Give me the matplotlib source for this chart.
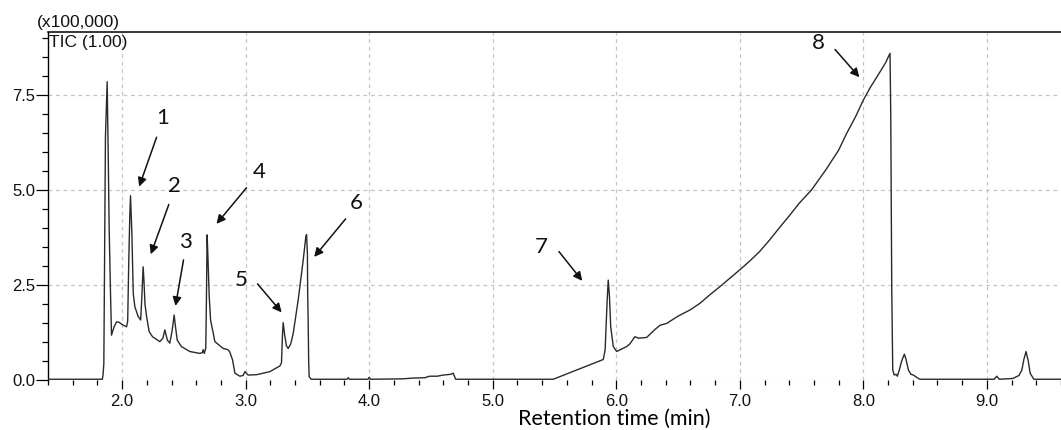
import matplotlib
matplotlib.use("Agg")
import matplotlib.pyplot as plt
from matplotlib.ticker import MultipleLocator, FormatStrFormatter

# Retention time (min) and TIC intensity (x100,000)
rt = [1.40, 1.84, 1.846, 1.852, 1.857, 1.865, 1.879, 1.888, 1.895, 1.906, 1.914,
      1.935, 1.955, 1.975, 1.995, 2.036, 2.045, 2.054, 2.062, 2.068, 2.073, 2.079,
      2.090, 2.103, 2.130, 2.150, 2.160, 2.170, 2.177, 2.185, 2.198, 2.219, 2.246,
      2.305, 2.330, 2.346, 2.366, 2.386, 2.405, 2.421, 2.432, 2.446, 2.480, 2.548,
      2.629, 2.650, 2.656, 2.665, 2.677, 2.682, 2.688, 2.695, 2.705, 2.716, 2.751,
      2.818, 2.855, 2.870, 2.894, 2.913, 2.953, 2.980, 2.994, 3.020, 3.088, 3.196,
      3.277, 3.290, 3.298, 3.304, 3.315, 3.330, 3.344, 3.365, 3.385, 3.425, 3.466,
      3.487, 3.493, 3.500, 3.502, 3.506, 3.510, 3.514, 3.530, 3.82, 3.83, 3.84,
      3.99, 4.00, 4.01, 4.27, 4.35, 4.45, 4.49, 4.55, 4.60, 4.66, 4.68, 4.70,
      5.49, 5.895, 5.91, 5.925, 5.935, 5.945, 5.955, 5.976, 6.003, 6.084, 6.110,
      6.151, 6.180, 6.246, 6.313, 6.354, 6.408, 6.50, 6.60, 6.678, 6.760, 6.840,
      6.92, 7.00, 7.08, 7.16, 7.24, 7.326, 7.40, 7.48, 7.58, 7.70, 7.80, 7.865,
      7.94, 8.00, 8.06, 8.135, 8.18, 8.216, 8.222, 8.230, 8.238, 8.250, 8.265,
      8.275, 8.290, 8.310, 8.332, 8.345, 8.365, 8.385, 8.405, 8.450, 8.46, 9.06,
      9.08, 9.10, 9.21, 9.26, 9.283, 9.30, 9.317, 9.335, 9.35, 9.38, 9.60]
tic = [0.02, 0.02, 0.15, 0.44, 2.68, 6.40, 7.85, 5.80, 4.00, 2.28, 1.18,
       1.40, 1.53, 1.52, 1.47, 1.40, 1.55, 3.16, 4.30, 4.85, 4.40, 3.86,
       2.28, 1.93, 1.67, 1.58, 2.20, 2.98, 2.60, 2.00, 1.67, 1.27, 1.14,
       1.01, 1.10, 1.32, 1.05, 0.97, 1.30, 1.71, 1.40, 1.05, 0.88, 0.75,
       0.70, 0.72, 0.80, 0.70, 0.83, 2.00, 3.82, 3.20, 2.20, 1.58, 1.01,
       0.83, 0.80, 0.75, 0.53, 0.18, 0.10, 0.12, 0.22, 0.13, 0.14, 0.22,
       0.37, 0.45, 1.20, 1.51, 1.20, 0.90, 0.83, 0.95, 1.23, 2.10, 3.16,
       3.77, 3.83, 3.30, 2.30, 1.58, 0.50, 0.09, 0.02, 0.02, 0.06, 0.02,
       0.02, 0.07, 0.02, 0.03, 0.05, 0.06, 0.10, 0.10, 0.13, 0.15, 0.18, 0.02,
       0.02, 0.54, 0.80, 2.00, 2.63, 2.20, 1.40, 0.88, 0.75, 0.88, 0.95,
       1.14, 1.10, 1.12, 1.33, 1.44, 1.49, 1.68, 1.85, 2.02, 2.25, 2.46,
       2.68, 2.90, 3.13, 3.38, 3.68, 4.03, 4.32, 4.65, 5.00, 5.55, 6.05, 6.49,
       6.95, 7.37, 7.72, 8.11, 8.35, 8.60, 6.93, 2.37, 0.26, 0.13, 0.15,
       0.10, 0.25, 0.50, 0.68, 0.55, 0.26, 0.15, 0.13, 0.03, 0.02, 0.02,
       0.10, 0.02, 0.04, 0.12, 0.26, 0.55, 0.75, 0.50, 0.18, 0.02, 0.02]

x_ticks = [2.0, 3.0, 4.0, 5.0, 6.0, 7.0, 8.0, 9.0]
y_ticks = [0.0, 2.5, 5.0, 7.5]

# peak labels with label position, arrow tail and arrow head
peak_labels = ["1", "2", "3", "4", "5", "6", "7", "8"]
label_xy = [(2.327, 6.89), (2.427, 5.11), (2.516, 3.64), (3.109, 5.47),
            (2.964, 2.63), (3.898, 4.67), (5.396, 3.49), (7.636, 8.86)]
tail_xy = [(2.279, 6.39), (2.378, 4.62), (2.497, 3.16), (3.007, 5.06),
           (3.096, 2.53), (3.809, 4.24), (5.536, 3.38), (7.771, 8.70)]
head_xy = [(2.138, 5.09), (2.232, 3.31), (2.432, 1.95), (2.764, 4.11),
           (3.291, 1.78), (3.555, 3.24), (5.725, 2.61), (7.968, 7.97)]

W, H = 1061, 430
fig = plt.figure(figsize=(W / 100, H / 100), dpi=100)
ax = fig.add_axes([48 / W, 1 - 380 / H, 1 - 48 / W, (380 - 32) / H])

ax.plot(rt, tic, color="#2a2a2a", lw=1.0, zorder=3)

ax.set_xlim(1.4, 9.6)
ax.set_ylim(0, 9.16)
ax.set_xticks(x_ticks)
ax.set_yticks(y_ticks)
ax.xaxis.set_minor_locator(MultipleLocator(0.2))
ax.yaxis.set_minor_locator(MultipleLocator(0.5))
ax.xaxis.set_major_formatter(FormatStrFormatter("%.1f"))
ax.yaxis.set_major_formatter(FormatStrFormatter("%.1f"))
for lab in ax.get_xticklabels() + ax.get_yticklabels():
    lab.set_fontfamily(["Liberation Sans", "DejaVu Sans"])
    lab.set_fontsize(12)
    lab.set_color("#111111")

ax.tick_params(axis="x", which="major", direction="out", length=6.5, width=0.9, pad=3.5)
ax.tick_params(axis="x", which="minor", direction="out", length=3.6, width=0.9)
ax.tick_params(axis="y", which="major", direction="out", length=8.6, width=0.9, pad=0.8)
ax.tick_params(axis="y", which="minor", direction="out", length=4.1, width=0.9)

ax.grid(True, which="major", color="#c4c4c4", linestyle=(0, (3, 3)), lw=0.9)
ax.set_axisbelow(True)

for s in ["bottom", "right"]:
    ax.spines[s].set_visible(False)
ax.spines["top"].set_linewidth(1.1)
ax.spines["left"].set_linewidth(1.0)

ax.set_xlabel("Retention time (min)", family=["Lato", "DejaVu Sans"], fontsize=15.5,
              labelpad=0)
ax.xaxis.set_label_coords((614 - 48) / (W - 48), (380 - 419) / (380 - 32))
ax.xaxis.label.set_verticalalignment("center")

fig.text(37 / W, 1 - 23 / H, "(x100,000)", ha="left", va="center",
         family=["Liberation Sans", "DejaVu Sans"], fontsize=12.5, color="#111111")
fig.text(49 / W, 1 - 42 / H, "TIC (1.00)", ha="left", va="center",
         family=["Liberation Sans", "DejaVu Sans"], fontsize=12.5, color="#111111")

for lab, txy, axy, hxy in zip(peak_labels, label_xy, tail_xy, head_xy):
    ax.text(txy[0], txy[1], lab, ha="center", va="center",
            family=["Lato", "DejaVu Sans"], fontsize=16, color="#111111", zorder=5)
    ax.annotate("", xy=hxy, xytext=axy,
                arrowprops=dict(arrowstyle="-|>", color="#111111", lw=1.1,
                                mutation_scale=13, shrinkA=0, shrinkB=0), zorder=5)

fig.savefig("out.png", dpi=100)
